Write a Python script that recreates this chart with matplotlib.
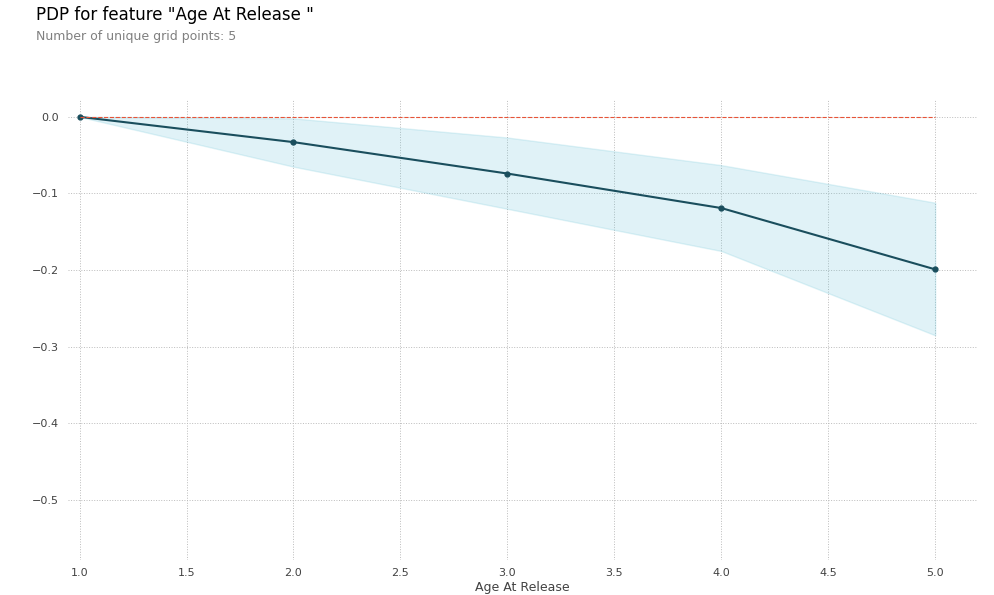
import matplotlib.pyplot as plt

grid_x = [1.0, 2.0, 3.0, 4.0, 5.0]
pdp = [0.0, -0.033, -0.074, -0.119, -0.199]
upper = [0.0, -0.002, -0.027, -0.063, -0.112]
lower = [0.0, -0.065, -0.120, -0.175, -0.285]
xticks = [1.0, 1.5, 2.0, 2.5, 3.0, 3.5, 4.0, 4.5, 5.0]
yticks = [0.0, -0.1, -0.2, -0.3, -0.4, -0.5]

fig = plt.figure(figsize=(9.94, 5.95), dpi=100)
fig.text(0.036, 0.975, 'PDP for feature "Age At Release "', fontsize=12, color='black', va='center')
fig.text(0.036, 0.938, 'Number of unique grid points: 5', fontsize=9, color='grey', va='center')

ax = fig.add_axes([0.068, 0.059, 0.915, 0.773])
ax.fill_between(grid_x, upper, lower, color='#66C2D7', alpha=0.2)
ax.plot(grid_x, pdp, color='#1A4E5D', linewidth=1.5, marker='o', markersize=3.5)
ax.plot([grid_x[0], grid_x[-1]], [0, 0], color='#E75438', linestyle='--', linewidth=0.8)

ax.set_xlim(0.944, 5.196)
ax.set_ylim(-0.578, 0.022)
ax.set_xticks(xticks)
ax.set_yticks(yticks)
ax.set_xticklabels([f'{v:.1f}' for v in xticks])
ax.set_yticklabels([f'{v:.1f}'.replace('-', '\u2212') if v != 0 else '0.0' for v in yticks])
ax.tick_params(axis='both', length=0, labelsize=8, labelcolor='#424242', pad=6)
ax.grid(True, linestyle=':', linewidth=0.7, color='#bbbbbb')
ax.set_axisbelow(True)
for s in ax.spines.values():
    s.set_visible(False)
ax.set_xlabel('Age At Release', fontsize=9, color='#424242', labelpad=2)

fig.savefig('out.png', dpi=100)
